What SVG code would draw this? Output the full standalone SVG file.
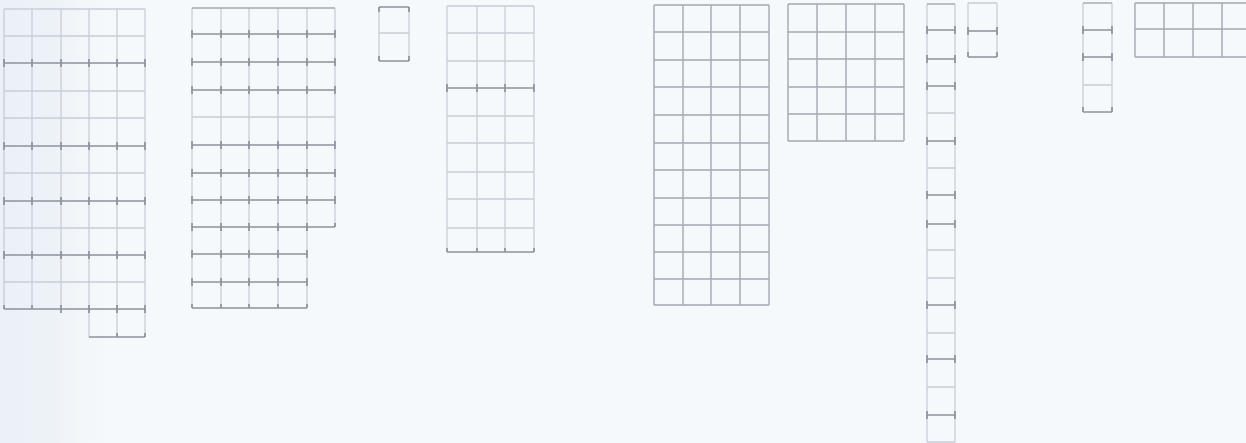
<svg xmlns="http://www.w3.org/2000/svg" width="1246" height="443" viewBox="0 0 1246 443">
<defs>
<linearGradient id="band" x1="0" y1="0" x2="1" y2="0">
<stop offset="0" stop-color="#e6edf5" stop-opacity="0.7"/>
<stop offset="0.5" stop-color="#e8eef6" stop-opacity="0.6"/>
<stop offset="1" stop-color="#eef3f8" stop-opacity="0"/>
</linearGradient>
</defs>
<style>
.l{fill:none;stroke:#c8cdd8;stroke-width:1.3}
.m{fill:none;stroke:#a3a8b2;stroke-width:1.4}
.d{fill:none;stroke:#8d929c;stroke-width:1.7}
</style>
<rect x="0" y="0" width="1246" height="443" fill="#f6f9fb"/>
<rect x="0" y="0" width="110" height="443" fill="url(#band)"/>
<g id="grid1">
<path class="l" d="M4 9V309M32 9V309M61 9V309M89 9V337M117 9V337M145 9V337M4 9H145M4 36H145M4 91H145M4 118H145M4 173H145M4 228H145M4 282H145"/>
<path class="d" d="M4 63H145M4 146H145M4 201H145M4 255H145M4 309H145M89 337H145M4 59v8M32 59v8M61 59v8M89 59v8M117 59v8M145 59v8M4 142v8M32 142v8M61 142v8M89 142v8M117 142v8M145 142v8M4 197v8M32 197v8M61 197v8M89 197v8M117 197v8M145 197v8M4 251v8M32 251v8M61 251v8M89 251v8M117 251v8M145 251v8M4 305v4M32 305v4M61 305v8M89 305v8M117 305v8M145 305v8M117 333v4M145 333v4"/>
</g>
<g id="grid2">
<path class="l" d="M192 8V308M221 8V308M249 8V308M278 8V308M307 8V308M335 8V227M192 117H335"/>
<path class="m" d="M192 8H335"/>
<path class="d" d="M192 34H335M192 62H335M192 90H335M192 145H335M192 173H335M192 200H335M192 227H335M192 254H307M192 282H307M192 308H307M192 30v8M221 30v8M249 30v8M278 30v8M307 30v8M335 30v8M192 58v8M221 58v8M249 58v8M278 58v8M307 58v8M335 58v8M192 86v8M221 86v8M249 86v8M278 86v8M307 86v8M335 86v8M192 141v8M221 141v8M249 141v8M278 141v8M307 141v8M335 141v8M192 169v8M221 169v8M249 169v8M278 169v8M307 169v8M335 169v8M192 196v8M221 196v8M249 196v8M278 196v8M307 196v8M335 196v8M192 223v8M221 223v8M249 223v8M278 223v8M307 223v8M335 223v4M192 250v8M221 250v8M249 250v8M278 250v8M307 250v8M192 278v8M221 278v8M249 278v8M278 278v8M307 278v8M192 304v4M221 304v4M249 304v4M278 304v4M307 304v4"/>
</g>
<g id="grid3">
<path class="l" d="M379 7V61M409 7V61M379 33H409"/>
<path class="d" d="M379 7H409M379 61H409M379 7v5M409 7v5M379 56v5M409 56v5"/>
</g>
<g id="grid4">
<path class="l" d="M447 6V252M477 6V252M505 6V252M534 6V252M447 6H534M447 33H534M447 61H534M447 116H534M447 143H534M447 172H534M447 199H534M447 228H534"/>
<path class="d" d="M447 88H534M447 252H534M447 84v8M477 84v8M505 84v8M534 84v8M447 248v4M477 248v4M505 248v4M534 248v4"/>
</g>
<g id="grid5">
<path class="m" d="M654 5V305M683 5V305M711 5V305M740 5V305M769 5V305M654 5H769M654 32H769M654 60H769M654 87H769M654 115H769M654 143H769M654 170H769M654 198H769M654 225H769M654 252H769M654 279H769M654 305H769"/>
</g>
<g id="grid6">
<path class="m" d="M788 4V141M817 4V141M846 4V141M875 4V141M904 4V141M788 4H904M788 32H904M788 59H904M788 87H904M788 114H904M788 141H904"/>
</g>
<g id="grid7">
<path class="l" d="M927 4V442M955 4V442M927 113H955M927 168H955M927 250H955M927 278H955M927 333H955M927 387H955M927 442H955"/>
<path class="m" d="M927 4H955"/>
<path class="d" d="M927 30H955M927 59H955M927 86H955M927 141H955M927 195H955M927 224H955M927 305H955M927 359H955M927 415H955M927 26v8M955 26v8M927 55v8M955 55v8M927 82v8M955 82v8M927 137v8M955 137v8M927 191v8M955 191v8M927 220v8M955 220v8M927 301v8M955 301v8M927 355v8M955 355v8M927 411v8M955 411v8"/>
</g>
<g id="grid8">
<path class="l" d="M968 3V57M997 3V57M968 3H997"/>
<path class="d" d="M968 31H997M968 57H997M968 27v8M997 27v8M968 52v5M997 52v5"/>
</g>
<g id="grid9">
<path class="l" d="M1083 3V112M1112 3V112M1083 85H1112"/>
<path class="m" d="M1083 3H1112"/>
<path class="d" d="M1083 30H1112M1083 57H1112M1083 112H1112M1083 26v8M1112 26v8M1083 53v8M1112 53v8M1083 107v5M1112 107v5"/>
</g>
<g id="grid10">
<path class="m" d="M1135 3V57M1164 3V57M1193 3V57M1222 3V57M1135 3H1250M1135 29H1250M1135 57H1250"/>
</g>
</svg>
